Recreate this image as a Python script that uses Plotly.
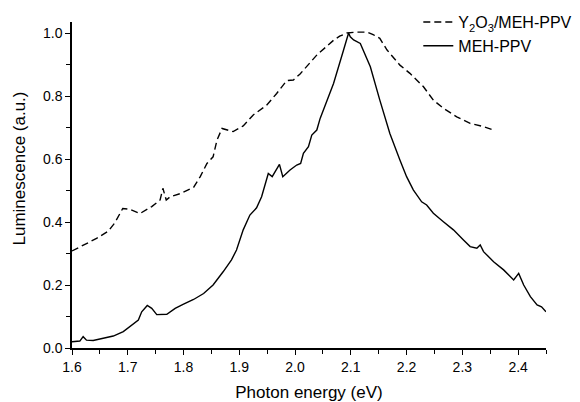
import plotly.graph_objects as go

# Y2O3/MEH-PPV (dashed)
dashed_x = [1.600, 1.620, 1.644, 1.665, 1.677, 1.691, 1.704, 1.722, 1.743, 1.758, 1.763, 1.769,
            1.776, 1.794, 1.818, 1.830, 1.842, 1.853, 1.860, 1.869, 1.889, 1.907, 1.925, 1.949,
            1.967, 1.985, 1.997, 2.009, 2.021, 2.040, 2.055, 2.069, 2.080, 2.093, 2.111, 2.129,
            2.140, 2.152, 2.165, 2.188, 2.206, 2.230, 2.248, 2.266, 2.290, 2.314, 2.338, 2.359]
dashed_y = [0.308, 0.325, 0.348, 0.371, 0.398, 0.443, 0.440, 0.427, 0.449, 0.470, 0.507, 0.470,
            0.480, 0.490, 0.510, 0.544, 0.586, 0.607, 0.660, 0.697, 0.687, 0.705, 0.740, 0.771,
            0.808, 0.849, 0.851, 0.870, 0.893, 0.932, 0.955, 0.977, 0.990, 1.000, 1.003, 1.003,
            0.995, 0.983, 0.946, 0.898, 0.872, 0.830, 0.787, 0.761, 0.734, 0.713, 0.703, 0.690]

# MEH-PPV (solid)
solid_x = [1.600, 1.614, 1.620, 1.626, 1.638, 1.656, 1.674, 1.692, 1.710, 1.719, 1.725, 1.735,
           1.743, 1.752, 1.770, 1.785, 1.800, 1.818, 1.836, 1.853, 1.871, 1.886, 1.895, 1.907,
           1.919, 1.931, 1.940, 1.952, 1.959, 1.972, 1.978, 1.991, 2.003, 2.010, 2.015, 2.024,
           2.030, 2.039, 2.045, 2.057, 2.069, 2.087, 2.096, 2.099, 2.105, 2.117, 2.135, 2.152,
           2.170, 2.188, 2.200, 2.212, 2.227, 2.236, 2.248, 2.266, 2.284, 2.302, 2.314, 2.326,
           2.332, 2.338, 2.356, 2.374, 2.392, 2.401, 2.410, 2.422, 2.434, 2.442, 2.450]
solid_y = [0.020, 0.022, 0.036, 0.025, 0.024, 0.030, 0.038, 0.052, 0.076, 0.089, 0.115, 0.135,
           0.126, 0.106, 0.107, 0.126, 0.139, 0.154, 0.173, 0.200, 0.242, 0.280, 0.311, 0.375,
           0.422, 0.445, 0.480, 0.554, 0.544, 0.583, 0.544, 0.565, 0.581, 0.586, 0.618, 0.639,
           0.676, 0.692, 0.729, 0.785, 0.840, 0.946, 1.000, 0.988, 0.978, 0.967, 0.893, 0.787,
           0.681, 0.597, 0.544, 0.502, 0.464, 0.454, 0.428, 0.401, 0.375, 0.343, 0.322, 0.317,
           0.327, 0.306, 0.274, 0.248, 0.216, 0.237, 0.200, 0.163, 0.137, 0.131, 0.115]

series_names = ["Y<sub>2</sub>O<sub>3</sub>/MEH-PPV", "MEH-PPV"]
x_title = "Photon energy (eV)"
y_title = "Luminescence (a.u.)"

FONT = "Liberation Sans, Arial, sans-serif"

fig = go.Figure()
fig.add_trace(go.Scatter(x=dashed_x, y=dashed_y, mode="lines", name=series_names[0],
                         line=dict(color="black", width=1.4, dash="7px,4px")))
fig.add_trace(go.Scatter(x=solid_x, y=solid_y, mode="lines", name=series_names[1],
                         line=dict(color="black", width=1.4)))

axis_common = dict(
    showline=True, linecolor="black", linewidth=1.5, mirror=False,
    ticks="outside", ticklen=5, tickwidth=1.3, tickcolor="black",
    showgrid=False, zeroline=False,
    tickfont=dict(family=FONT, size=14, color="black"),
    tickformat=".1f",
)

fig.update_xaxes(range=[1.6, 2.45], dtick=0.1, tick0=1.6,
                 minor=dict(dtick=0.05, ticks="outside", ticklen=4, tickcolor="black", tickwidth=1.3),
                 title=dict(text=x_title, font=dict(family=FONT, size=17, color="black"), standoff=14),
                 **axis_common)
fig.update_yaxes(range=[0, 1.035], dtick=0.2, tick0=0,
                 minor=dict(dtick=0.1, ticks="outside", ticklen=4, tickcolor="black", tickwidth=1.3),
                 **axis_common)

# y-axis title (sits a little above the axis centre in the reference)
fig.add_annotation(text=y_title, xref="paper", yref="paper", x=0, y=0.549,
                   xshift=-52.5, xanchor="center", yanchor="middle", textangle=-90,
                   showarrow=False, font=dict(family=FONT, size=17, color="black"))

# the page body adds an 8px offset, so the figure is sized 8px smaller
fig.update_layout(
    width=572, height=394,
    margin=dict(l=64, r=34, t=14, b=54, autoexpand=False),
    paper_bgcolor="white", plot_bgcolor="white",
    font=dict(family=FONT, color="black"),
    showlegend=True,
    legend=dict(x=0.7306, xanchor="left", y=1.052, yanchor="top",
                font=dict(family=FONT, size=16, color="black"),
                bgcolor="rgba(0,0,0,0)", borderwidth=0, tracegroupgap=0),
)

fig.write_html("out.html")
